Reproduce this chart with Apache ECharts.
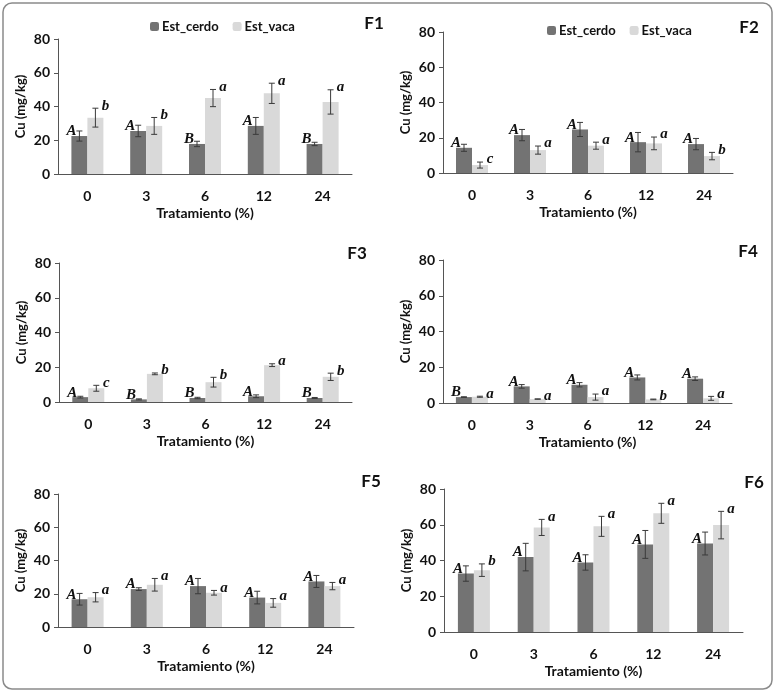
<!DOCTYPE html>
<html><head><meta charset="utf-8">
<script src="https://cdn.jsdelivr.net/npm/echarts@6/dist/echarts.min.js"></script>
<style>html,body{margin:0;padding:0;background:#fff}#c{width:775px;height:692px}</style>
</head><body><div id="c"></div>
<script>
const categories = ['0', '3', '6', '12', '24'];
const yTicks = [0, 20, 40, 60, 80];

const cerdoF1 = [22.5, 25.5, 17.8, 28.5, 17.8];
const cerdoErrF1 = [3.0, 3.4, 1.6, 5.0, 1.0];
const vacaF1 = [33.4, 28.5, 45.0, 47.8, 42.7];
const vacaErrF1 = [5.6, 5.0, 5.1, 6.0, 7.2];
const letCerdoF1 = ['A', 'A', 'B', 'A', 'B'];
const letVacaF1 = ['b', 'b', 'a', 'a', 'a'];

const cerdoF2 = [14.3, 21.5, 24.7, 17.5, 16.4];
const cerdoErrF2 = [2.0, 3.2, 4.0, 5.5, 3.2];
const vacaF2 = [4.5, 13.0, 15.5, 16.8, 9.6];
const vacaErrF2 = [1.7, 2.3, 2.0, 3.6, 2.1];
const letCerdoF2 = ['A', 'A', 'A', 'A', 'A'];
const letVacaF2 = ['c', 'a', 'a', 'a', 'b'];

const cerdoF3 = [2.8, 1.5, 2.3, 3.3, 2.3];
const cerdoErrF3 = [0.5, 0.3, 0.4, 0.8, 0.3];
const vacaF3 = [7.9, 16.2, 11.4, 21.2, 14.5];
const vacaErrF3 = [1.7, 0.5, 2.8, 0.8, 2.1];
const letCerdoF3 = ['A', 'B', 'B', 'A', 'B'];
const letVacaF3 = ['c', 'b', 'b', 'a', 'b'];

const cerdoF4 = [3.3, 9.3, 10.2, 14.3, 13.6];
const cerdoErrF4 = [0.2, 1.0, 1.2, 1.4, 1.0];
const vacaF4 = [3.5, 2.2, 3.3, 2.0, 2.6];
const vacaErrF4 = [0.3, 0.1, 1.7, 0.2, 1.1];
const letCerdoF4 = ['B', 'A', 'A', 'A', 'A'];
const letVacaF4 = ['a', 'a', 'a', 'b', 'a'];

const cerdoF5 = [16.7, 22.8, 24.6, 17.7, 27.4];
const cerdoErrF5 = [3.5, 0.8, 4.6, 3.8, 3.6];
const vacaF5 = [17.9, 25.4, 20.6, 14.5, 24.6];
const vacaErrF5 = [2.8, 3.8, 1.4, 2.6, 2.2];
const letCerdoF5 = ['A', 'A', 'A', 'A', 'A'];
const letVacaF5 = ['a', 'a', 'a', 'a', 'a'];

const cerdoF6 = [32.7, 41.9, 38.9, 49.0, 49.5];
const cerdoErrF6 = [4.3, 7.7, 4.3, 7.8, 6.4];
const vacaF6 = [34.6, 58.5, 59.1, 66.4, 59.8];
const vacaErrF6 = [3.5, 4.5, 5.6, 5.6, 7.7];
const letCerdoF6 = ['A', 'A', 'A', 'A', 'A'];
const letVacaF6 = ['b', 'a', 'a', 'a', 'a'];

const panelNames = ['F1', 'F2', 'F3', 'F4', 'F5', 'F6'];
const panelData = [
  [cerdoF1, cerdoErrF1, vacaF1, vacaErrF1, letCerdoF1, letVacaF1],
  [cerdoF2, cerdoErrF2, vacaF2, vacaErrF2, letCerdoF2, letVacaF2],
  [cerdoF3, cerdoErrF3, vacaF3, vacaErrF3, letCerdoF3, letVacaF3],
  [cerdoF4, cerdoErrF4, vacaF4, vacaErrF4, letCerdoF4, letVacaF4],
  [cerdoF5, cerdoErrF5, vacaF5, vacaErrF5, letCerdoF5, letVacaF5],
  [cerdoF6, cerdoErrF6, vacaF6, vacaErrF6, letCerdoF6, letVacaF6]
];

// layout (px)
const grids = [
  {left: 58, top: 39, width: 294, height: 135},
  {left: 443, top: 32, width: 290, height: 141},
  {left: 59, top: 263, width: 293, height: 139},
  {left: 443, top: 260, width: 289, height: 143},
  {left: 58, top: 494, width: 296, height: 133},
  {left: 444, top: 489, width: 299, height: 143}
];
const fLabelPos = [[374, 24], [749, 28], [357, 254], [748, 252], [371, 482], [754, 483]];

const FONT = 'Lato, "Open Sans", sans-serif';
const COL_CERDO = '#737373';
const COL_VACA = '#d9d9d9';
const BW = 16;

function errRender(offset) {
  return function (params, api) {
    const x = api.value(0), y = api.value(1), e = api.value(2);
    const c = api.coord([x, y]);
    const t = api.coord([x, y + e]);
    const b = api.coord([x, y - e]);
    const cx = c[0] + offset;
    const st = {stroke: '#3a3a3a', lineWidth: 1};
    return {type: 'group', children: [
      {type: 'line', shape: {x1: cx, y1: t[1], x2: cx, y2: b[1]}, style: st},
      {type: 'line', shape: {x1: cx - 3, y1: t[1], x2: cx + 3, y2: t[1]}, style: st},
      {type: 'line', shape: {x1: cx - 3, y1: b[1], x2: cx + 3, y2: b[1]}, style: st}
    ]};
  };
}
function letterRender(letters, isCerdo) {
  return function (params, api) {
    const x = api.value(0), y = api.value(1), e = api.value(2);
    const i = params.dataIndex;
    let px, py;
    if (isCerdo) {
      const c = api.coord([x, y]);
      px = c[0] - BW;
      py = c[1] + 3;
    } else {
      const t = api.coord([x, y + e]);
      px = t[0] + BW + 2;
      py = t[1] + 5;
    }
    return {type: 'text', x: px, y: py, style: {
      text: letters[i], font: 'italic bold 15px "Liberation Serif", "DejaVu Serif", serif',
      fill: '#111', align: 'center', verticalAlign: 'bottom'
    }};
  };
}

const option = {
  animation: false,
  backgroundColor: '#fff',
  grid: grids.map(g => Object.assign({containLabel: false}, g)),
  legend: [
    {left: 145, top: 15, itemWidth: 9, itemHeight: 9, itemGap: 14, data: ['Est_cerdo', 'Est_vaca'],
      textStyle: {fontFamily: FONT, fontWeight: 'bold', fontSize: 13, color: '#111', padding: [0, 0, 0, -2]}},
    {left: 542, top: 19, itemWidth: 9, itemHeight: 9, itemGap: 14, data: ['Est_cerdo', 'Est_vaca'],
      textStyle: {fontFamily: FONT, fontWeight: 'bold', fontSize: 13, color: '#111', padding: [0, 0, 0, -2]}}
  ],
  xAxis: grids.map((g, k) => ({
    type: 'category', gridIndex: k, data: categories,
    name: 'Tratamiento (%)', nameLocation: 'middle', nameGap: 32,
    nameTextStyle: {fontFamily: FONT, fontWeight: 'bold', fontSize: 14, color: '#111'},
    axisLine: {lineStyle: {color: '#555', width: 1}},
    axisTick: {show: false},
    axisLabel: {fontFamily: FONT, fontWeight: 'bold', fontSize: 14, color: '#111', margin: 15}
  })),
  yAxis: grids.map((g, k) => ({
    type: 'value', gridIndex: k, min: yTicks[0], max: yTicks[yTicks.length - 1], interval: 20,
    name: 'Cu (mg/kg)', nameLocation: 'middle', nameGap: 31,
    nameTextStyle: {fontFamily: FONT, fontWeight: 'bold', fontSize: 13, color: '#111'},
    axisLine: {show: true, lineStyle: {color: '#555', width: 1}},
    axisTick: {show: true, length: 4, lineStyle: {color: '#555'}},
    splitLine: {show: false},
    axisLabel: {fontFamily: FONT, fontWeight: 'bold', fontSize: 14, color: '#111', margin: 8}
  })),
  series: [],
  graphic: [
    {type: 'rect', shape: {x: 3, y: 3, width: 769, height: 686, r: 9},
      style: {fill: 'none', stroke: '#8a8a8a', lineWidth: 1.5}, z: -1}
  ].concat(panelNames.map((n, k) => ({
    type: 'text', x: fLabelPos[k][0], y: fLabelPos[k][1],
    style: {text: n, font: 'bold 17px ' + FONT, fill: '#111', align: 'center', verticalAlign: 'middle'}
  })))
};

panelData.forEach((p, k) => {
  const [cerdo, cerdoErr, vaca, vacaErr, letC, letV] = p;
  option.series.push({
    name: 'Est_cerdo', type: 'bar', xAxisIndex: k, yAxisIndex: k, data: cerdo,
    barWidth: BW, barGap: '0%', itemStyle: {color: COL_CERDO}
  });
  option.series.push({
    name: 'Est_vaca', type: 'bar', xAxisIndex: k, yAxisIndex: k, data: vaca,
    barWidth: BW, barGap: '0%', itemStyle: {color: COL_VACA}
  });
  const ec = cerdo.map((v, i) => [i, v, cerdoErr[i]]);
  const ev = vaca.map((v, i) => [i, v, vacaErr[i]]);
  option.series.push({type: 'custom', xAxisIndex: k, yAxisIndex: k, data: ec, renderItem: errRender(-BW / 2), z: 5});
  option.series.push({type: 'custom', xAxisIndex: k, yAxisIndex: k, data: ev, renderItem: errRender(BW / 2), z: 5});
  option.series.push({type: 'custom', xAxisIndex: k, yAxisIndex: k, data: ec, renderItem: letterRender(letC, true), z: 6});
  option.series.push({type: 'custom', xAxisIndex: k, yAxisIndex: k, data: ev, renderItem: letterRender(letV, false), z: 6});
});

const chart = echarts.init(document.getElementById('c'), null, {renderer: 'canvas'});
chart.setOption(option);
</script></body></html>
